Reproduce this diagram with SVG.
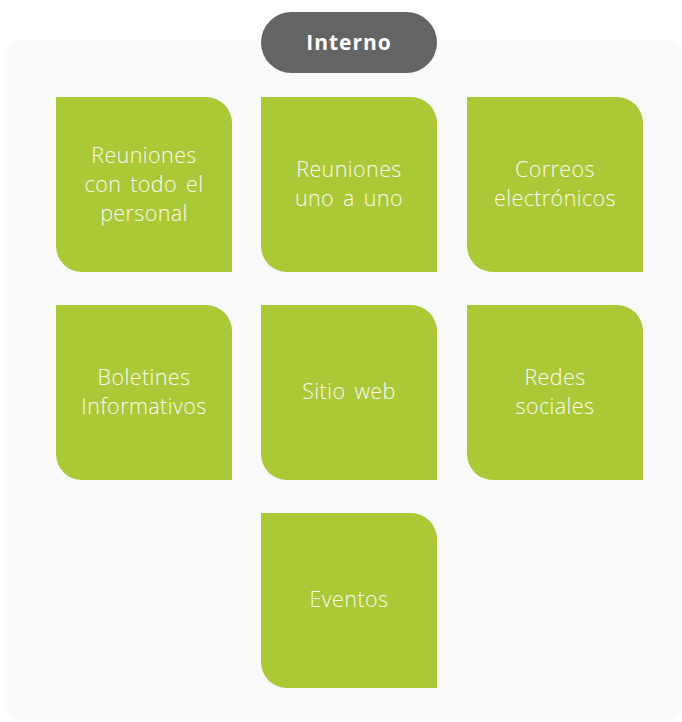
<svg xmlns="http://www.w3.org/2000/svg" width="682" height="722" viewBox="0 0 682 722">
<defs>
<style>
.bg{fill:#f9f9f9}
.box{fill:#abc837}
.t{font-family:"Open Sans","Liberation Sans",sans-serif;font-weight:300;font-size:21.5px;letter-spacing:0.4px;fill:#fbfbf3;text-anchor:middle;word-spacing:3px}
.hdr{font-family:"Open Sans","Liberation Sans",sans-serif;font-weight:700;font-size:21px;letter-spacing:1px;fill:#ffffff;text-anchor:middle}
</style>
<path id="leaf" d="M0,0 H150 A26,26 0 0 1 176,26 V175 H26 A26,26 0 0 1 0,149 Z"/>
</defs>
<rect width="682" height="722" fill="#ffffff"/>
<rect class="bg" x="7" y="40" width="674" height="680" rx="12"/>
<g id="header">
<rect x="261" y="12" width="176" height="61" rx="30.5" fill="#646464"/>
<text class="hdr" x="349" y="50">Interno</text>
</g>
<g id="connectors"></g>
<g id="n1">
<use href="#leaf" class="box" x="56" y="97"/>
<text class="t" x="144" y="163">Reuniones</text>
<text class="t" x="144" y="192">con todo el</text>
<text class="t" x="144" y="221">personal</text>
</g>
<g id="n2">
<use href="#leaf" class="box" x="261" y="97"/>
<text class="t" x="349" y="177">Reuniones</text>
<text class="t" x="349" y="206">uno a uno</text>
</g>
<g id="n3">
<use href="#leaf" class="box" x="467" y="97"/>
<text class="t" x="555" y="177">Correos</text>
<text class="t" x="555" y="206">electrónicos</text>
</g>
<g id="n4">
<use href="#leaf" class="box" x="56" y="305"/>
<text class="t" x="144" y="385">Boletines</text>
<text class="t" x="144" y="414">Informativos</text>
</g>
<g id="n5">
<use href="#leaf" class="box" x="261" y="305"/>
<text class="t" x="349" y="399">Sitio web</text>
</g>
<g id="n6">
<use href="#leaf" class="box" x="467" y="305"/>
<text class="t" x="555" y="385">Redes</text>
<text class="t" x="555" y="414">sociales</text>
</g>
<g id="n7">
<use href="#leaf" class="box" x="261" y="513"/>
<text class="t" x="349" y="607">Eventos</text>
</g>
</svg>
